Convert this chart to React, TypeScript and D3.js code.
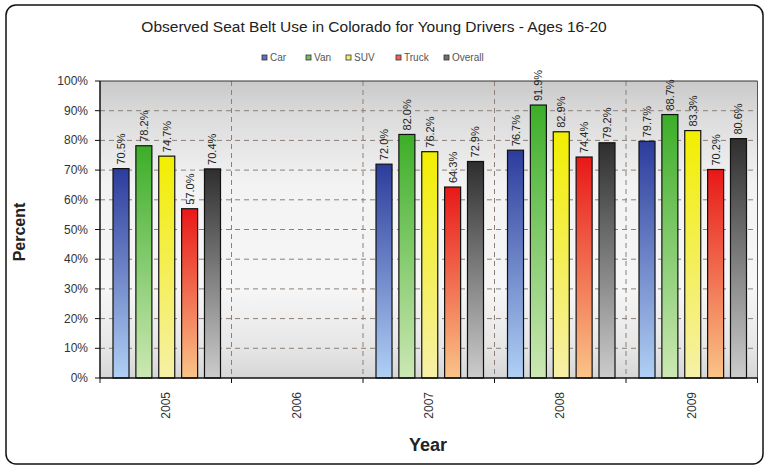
import React from "react";
import * as d3 from "d3";

const years = ["2005", "2006", "2007", "2008", "2009"];
const seriesNames = ["Car", "Van", "SUV", "Truck", "Overall"];
const car = [70.5, null, 72.0, 76.7, 79.7];
const van = [78.2, null, 82.0, 91.9, 88.7];
const suv = [74.7, null, 76.2, 82.9, 83.3];
const truck = [57.0, null, 64.3, 74.4, 70.2];
const overall = [70.4, null, 72.9, 79.2, 80.6];
const yTicks = [0, 10, 20, 30, 40, 50, 60, 70, 80, 90, 100];

const seriesValues = [car, van, suv, truck, overall];
const colorsTop = ["#2c3c9c", "#3cae28", "#f2ee00", "#e81818", "#2e2e2e"];
const colorsBottom = ["#b0d0f4", "#cce8b4", "#f6f0a8", "#fac488", "#cccccc"];
const legendColors = ["#6070c0", "#70c060", "#f0f060", "#f06060", "#707070"];

export default function App() {
  const W = 767, H = 468;
  const left = 100, right = 757.5, top = 81, bottom = 378;
  const x = d3.scaleBand<string>().domain(years).range([left, right]).padding(0);
  const cw = x.bandwidth();
  const xi = d3.scaleBand<string>().domain(seriesNames).range([13, cw - 11]).paddingInner(0.3).paddingOuter(0);
  const y = d3.scaleLinear().domain([0, 100]).range([bottom, top]);

  const legendX = [262, 306, 346, 396, 444];

  return (
    <svg width={W} height={H} style={{ position: "absolute", left: 0, top: 0 }} fontFamily="Arial, 'Liberation Sans', sans-serif">
      <defs>
        <linearGradient id="bg" x1="0" y1="0" x2="0" y2="1">
          <stop offset="0" stopColor="#c9c9c9" />
          <stop offset="0.12" stopColor="#dcdcdc" />
          <stop offset="0.35" stopColor="#f3f3f3" />
          <stop offset="0.7" stopColor="#f6f6f6" />
          <stop offset="0.9" stopColor="#e6e6e6" />
          <stop offset="1" stopColor="#d6d6d6" />
        </linearGradient>
        {seriesNames.map((s, i) => (
          <linearGradient key={s} id={`g${i}`} x1="0" y1="0" x2="0" y2="1">
            <stop offset="0" stopColor={colorsTop[i]} />
            <stop offset="1" stopColor={colorsBottom[i]} />
          </linearGradient>
        ))}
      </defs>
      <rect x={0} y={0} width={W} height={H} fill="#ffffff" />
      <rect x={6} y={5} width={757} height={459} rx={10} fill="#ffffff" stroke="#111" strokeWidth={1.5} />

      <text x={374} y={32} textAnchor="middle" fontSize={15.5} fill="#222">
        Observed Seat Belt Use in Colorado for Young Drivers - Ages 16-20
      </text>

      {seriesNames.map((s, i) => (
        <g key={s}>
          <rect x={legendX[i]} y={55} width={5} height={5} fill={legendColors[i]} stroke="#333" strokeWidth={0.8} />
          <text x={legendX[i] + 8} y={61} fontSize={10} fill="#555">{s}</text>
        </g>
      ))}

      <rect x={left} y={top} width={right - left} height={bottom - top} fill="url(#bg)" />

      {yTicks.filter(t => t > 0 && t < 100).map(t => (
        <line key={t} x1={left} x2={right} y1={y(t)} y2={y(t)} stroke="#8c8078" strokeWidth={1} strokeDasharray="5,4" />
      ))}
      {years.slice(1).map(yr => (
        <line key={yr} x1={x(yr)!} x2={x(yr)!} y1={top} y2={bottom} stroke="#8c8078" strokeWidth={1} strokeDasharray="5,4" />
      ))}
      <line x1={left} x2={right} y1={top} y2={top} stroke="#333" strokeWidth={1.2} />
      <line x1={right} x2={right} y1={top} y2={bottom} stroke="#555" strokeWidth={1} />

      {seriesValues.map((vals, si) =>
        vals.map((v, yi) => {
          if (v == null) return null;
          const bx = x(years[yi])! + xi(seriesNames[si])!;
          const bw = xi.bandwidth();
          const by = y(v);
          return (
            <g key={`${si}-${yi}`}>
              <rect x={bx} y={by} width={bw} height={bottom - by} fill={`url(#g${si})`} stroke="#111" strokeWidth={1.2} />
              <text transform={`translate(${bx + bw / 2 + 4},${by - 4}) rotate(-90)`} fontSize={11} fill="#222">
                {v.toFixed(1)}%
              </text>
            </g>
          );
        })
      )}

      <line x1={left} x2={left} y1={top} y2={bottom} stroke="#111" strokeWidth={1.5} />
      <line x1={left} x2={right} y1={bottom} y2={bottom} stroke="#111" strokeWidth={1.5} />
      {yTicks.map(t => (
        <g key={t}>
          <line x1={left - 5} x2={left} y1={y(t)} y2={y(t)} stroke="#111" strokeWidth={1} />
          <text x={88} y={y(t) + 4} textAnchor="end" fontSize={12} fill="#333">{t}%</text>
        </g>
      ))}
      {[...years.map(yr => x(yr)!), right].map((px, i) => (
        <line key={i} x1={px} x2={px} y1={bottom} y2={bottom + 5} stroke="#111" strokeWidth={1} />
      ))}
      {years.map(yr => (
        <text key={yr} transform={`translate(${x(yr)! + cw / 2 + 4},392) rotate(-90)`} textAnchor="end" fontSize={12} fill="#333">
          {yr}
        </text>
      ))}

      <text x={428} y={451} textAnchor="middle" fontSize={18} fontWeight="bold" fill="#222">Year</text>
      <text transform={`translate(25,232) rotate(-90)`} textAnchor="middle" fontSize={16} fontWeight="bold" fill="#222">Percent</text>
    </svg>
  );
}
